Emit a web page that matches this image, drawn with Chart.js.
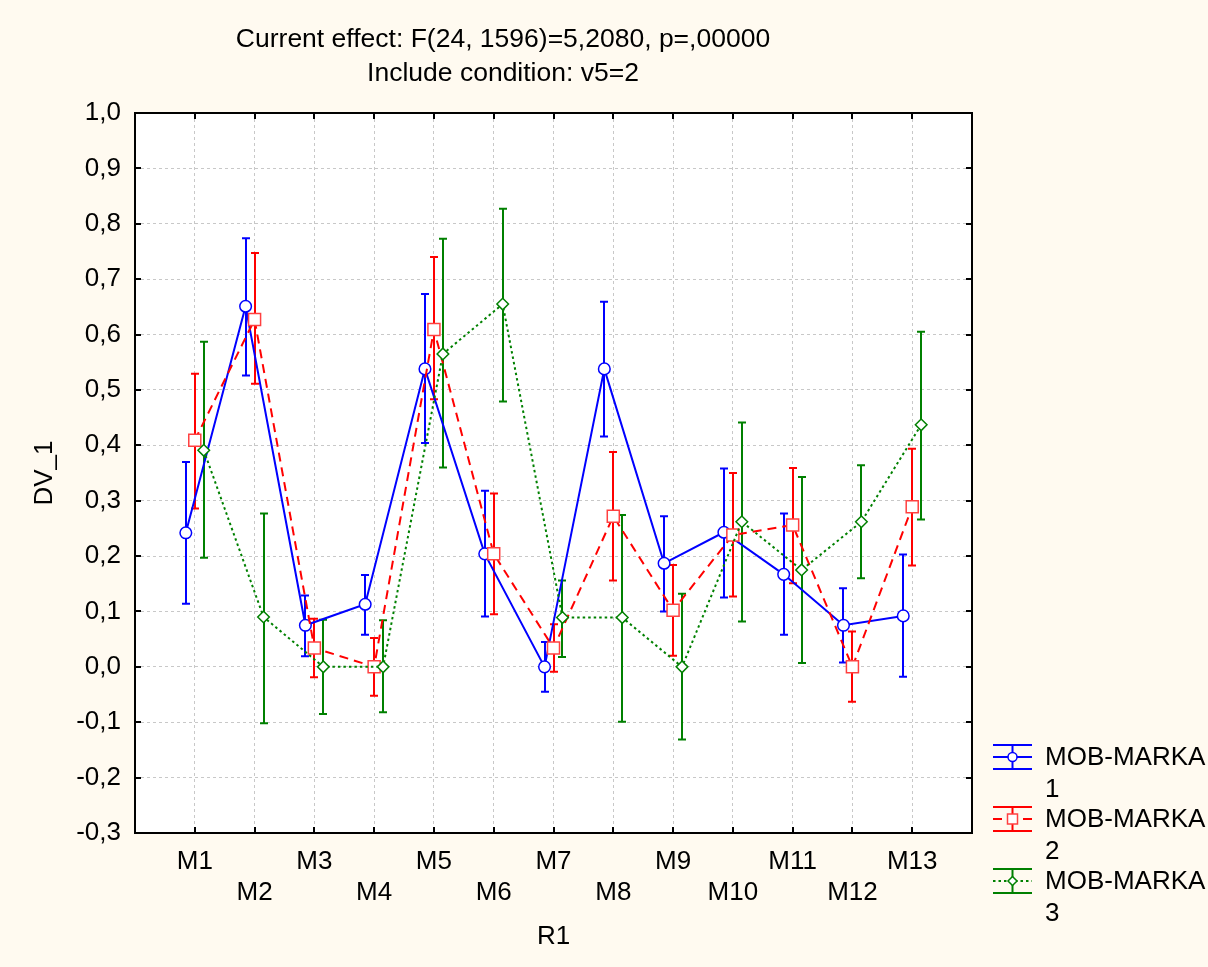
<!DOCTYPE html>
<html><head><meta charset="utf-8">
<script src="https://cdn.jsdelivr.net/npm/chart.js@4/dist/chart.umd.min.js"></script>
<style>html,body{margin:0;padding:0;background:#FFFAF0;}canvas{display:block;}</style>
</head><body>
<canvas id="c" width="1208" height="967"></canvas>
<script>
// ---- data ----
const categories = ['M1','M2','M3','M4','M5','M6','M7','M8','M9','M10','M11','M12','M13'];
const yTickValues = [-0.3,-0.2,-0.1,0.0,0.1,0.2,0.3,0.4,0.5,0.6,0.7,0.8,0.9,1.0];
const titleLines = ['Current effect: F(24, 1596)=5,2080, p=,00000', 'Include condition: v5=2'];
const xAxisTitle = 'R1';
const yAxisTitle = 'DV_1';
const seriesNames = ['MOB-MARKA 1', 'MOB-MARKA 2', 'MOB-MARKA 3'];

const marka1Mean  = [0.242, 0.651, 0.075, 0.113, 0.538, 0.204, 0.000, 0.538, 0.187, 0.243, 0.167, 0.075, 0.092];
const marka1Upper = [0.370, 0.774, 0.129, 0.166, 0.673, 0.318, 0.045, 0.659, 0.272, 0.358, 0.277, 0.142, 0.203];
const marka1Lower = [0.114, 0.526, 0.019, 0.058, 0.404, 0.091, -0.045, 0.416, 0.100, 0.125, 0.058, 0.008, -0.018];

const marka2Mean  = [0.409, 0.627, 0.034, 0.000, 0.609, 0.204, 0.034, 0.272, 0.102, 0.238, 0.256, 0.000, 0.289];
const marka2Upper = [0.529, 0.747, 0.087, 0.052, 0.740, 0.313, 0.077, 0.388, 0.184, 0.350, 0.359, 0.064, 0.394];
const marka2Lower = [0.286, 0.511, -0.019, -0.052, 0.483, 0.095, -0.009, 0.156, 0.020, 0.127, 0.151, -0.063, 0.183];

const marka3Mean  = [0.391, 0.090, 0.000, 0.000, 0.565, 0.655, 0.089, 0.089, 0.000, 0.262, 0.175, 0.262, 0.437];
const marka3Upper = [0.587, 0.277, 0.085, 0.084, 0.773, 0.827, 0.156, 0.274, 0.132, 0.441, 0.343, 0.364, 0.605];
const marka3Lower = [0.197, -0.102, -0.085, -0.082, 0.360, 0.479, 0.018, -0.099, -0.131, 0.082, 0.007, 0.160, 0.266];

// ---- styling ----
const FONT = 'Arial, "Liberation Sans", sans-serif';
const FS = 26;
const seriesData = [
  {mean: marka1Mean, upper: marka1Upper, lower: marka1Lower},
  {mean: marka2Mean, upper: marka2Upper, lower: marka2Lower},
  {mean: marka3Mean, upper: marka3Upper, lower: marka3Lower}
];
const seriesStyles = [
  {color:'#0000FF', marker:'#0000FF', dash:[], style:'circle', radius:5.8, offset:-0.15, order:3},
  {color:'#FF0000', marker:'#FF4040', dash:[9,6], style:'rect', radius:8.5, offset:0, order:2},
  {color:'#008000', marker:'#008000', dash:[2.5,3], style:'rectRot', radius:5.8, offset:0.15, order:1}
];

function fmt(v){ if (Math.abs(v) < 1e-9) v = 0; return v.toFixed(1).replace('.', ','); }

function drawMarker(ctx, style, x, y, r, color){
  ctx.save();
  ctx.setLineDash([]);
  ctx.fillStyle = '#FFFFFF'; ctx.strokeStyle = color; ctx.lineWidth = 1.5;
  ctx.beginPath();
  if (style === 'circle') ctx.arc(x, y, r, 0, Math.PI*2);
  else if (style === 'rect') ctx.rect(x - r, y - r, 2*r, 2*r);
  else { ctx.moveTo(x, y - r); ctx.lineTo(x + r, y); ctx.lineTo(x, y + r); ctx.lineTo(x - r, y); ctx.closePath(); }
  ctx.fill(); ctx.stroke();
  ctx.restore();
}

const framePlugin = {
  id: 'framePlugin',
  beforeDraw(chart){
    const {ctx, chartArea:a, width, height} = chart;
    ctx.save();
    ctx.fillStyle = '#FFFAF0'; ctx.fillRect(0, 0, width, height);
    ctx.fillStyle = '#FFFFFF'; ctx.fillRect(a.left, a.top, a.right - a.left, a.bottom - a.top);
    ctx.restore();
  },
  beforeDatasetsDraw(chart){
    const {ctx, scales:{x, y}} = chart;
    ctx.save();
    ctx.lineWidth = 2; ctx.setLineDash([]);
    seriesData.forEach((s, k) => {
      const st = seriesStyles[k];
      ctx.strokeStyle = st.color;
      s.mean.forEach((m, i) => {
        const px = Math.round(x.getPixelForValue(i + st.offset));
        const yt = y.getPixelForValue(s.upper[i]);
        const yb = y.getPixelForValue(s.lower[i]);
        ctx.beginPath();
        ctx.moveTo(px, yt); ctx.lineTo(px, yb);
        ctx.moveTo(px - 4, yt); ctx.lineTo(px + 4, yt);
        ctx.moveTo(px - 4, yb); ctx.lineTo(px + 4, yb);
        ctx.stroke();
      });
    });
    ctx.restore();
  },
  afterDraw(chart){
    const {ctx, chartArea:a, scales:{x, y}} = chart;
    ctx.save();
    // frame
    ctx.strokeStyle = '#000'; ctx.lineWidth = 2; ctx.setLineDash([]);
    ctx.strokeRect(a.left, a.top, a.right - a.left, a.bottom - a.top);
    // inward ticks
    ctx.beginPath();
    categories.forEach((c, i) => {
      const px = Math.round(x.getPixelForValue(i));
      ctx.moveTo(px, a.top); ctx.lineTo(px, a.top + 6);
      ctx.moveTo(px, a.bottom); ctx.lineTo(px, a.bottom - 6);
    });
    yTickValues.forEach(v => {
      const py = Math.round(y.getPixelForValue(v));
      ctx.moveTo(a.left, py); ctx.lineTo(a.left + 6, py);
      ctx.moveTo(a.right, py); ctx.lineTo(a.right - 6, py);
    });
    ctx.stroke();
    // titles
    ctx.fillStyle = '#000';
    ctx.textAlign = 'center'; ctx.textBaseline = 'middle';
    ctx.font = '26.5px ' + FONT;
    ctx.fillText(titleLines[0], 503, 40);
    ctx.fillText(titleLines[1], 503, 74);
    ctx.font = FS + 'px ' + FONT;
    ctx.fillText(xAxisTitle, (a.left + a.right) / 2, 937);
    ctx.save();
    ctx.translate(45, (a.top + a.bottom) / 2);
    ctx.rotate(-Math.PI / 2);
    ctx.fillText(yAxisTitle, 0, 0);
    ctx.restore();
    // legend
    seriesNames.forEach((name, k) => {
      const st = seriesStyles[k];
      const y0 = 745 + k * 62;
      const x0 = 993, x1 = 1032, xc = 1012.5;
      ctx.strokeStyle = st.color; ctx.lineWidth = 2; ctx.setLineDash([]);
      ctx.beginPath();
      ctx.moveTo(x0, y0); ctx.lineTo(x1, y0);
      ctx.moveTo(x0, y0 + 24); ctx.lineTo(x1, y0 + 24);
      ctx.moveTo(xc, y0); ctx.lineTo(xc, y0 + 24);
      ctx.stroke();
      ctx.setLineDash(st.dash);
      ctx.beginPath(); ctx.moveTo(x0, y0 + 12); ctx.lineTo(x1, y0 + 12); ctx.stroke();
      drawMarker(ctx, st.style, xc, y0 + 12, st.style === 'rect' ? 5 : 4.5, st.marker);
      const parts = name.split(' ');
      ctx.fillStyle = '#000'; ctx.textAlign = 'left'; ctx.textBaseline = 'middle';
      ctx.fillText(parts[0], 1045, 758 + k * 62);
      ctx.fillText(parts[1], 1045, 790 + k * 62);
    });
    ctx.restore();
  }
};

const datasets = seriesData.map((s, k) => {
  const st = seriesStyles[k];
  return {
    label: seriesNames[k],
    data: s.mean.map((m, i) => ({x: i + st.offset, y: m})),
    showLine: true,
    borderColor: st.color,
    borderWidth: 2,
    borderDash: st.dash,
    tension: 0,
    pointStyle: st.style,
    pointRadius: st.radius,
    pointBackgroundColor: '#FFFFFF',
    pointBorderColor: st.marker,
    pointBorderWidth: 1.5,
    order: st.order
  };
});

new Chart(document.getElementById('c'), {
  type: 'scatter',
  data: { datasets },
  plugins: [framePlugin],
  options: {
    responsive: false,
    animation: false,
    events: [],
    layout: { autoPadding: false, padding: { top: 113, right: 236, bottom: 0, left: 0 } },
    plugins: { legend: { display: false }, tooltip: { enabled: false }, title: { display: false } },
    scales: {
      x: {
        type: 'linear', min: -1, max: 13,
        afterFit(scale){ scale.height = 134; },
        afterBuildTicks(scale){ scale.ticks = categories.map((c, i) => ({value: i})); },
        grid: { color: '#C8C8C8', lineWidth: 1, drawTicks: false },
        border: { display: false, dash: [3, 3] },
        ticks: {
          autoSkip: false, maxRotation: 0, padding: 13, color: '#000',
          font: { family: FONT, size: FS, lineHeight: 1.2 },
          callback: (v) => { const n = categories[Math.round(v)]; return Math.round(v) % 2 === 0 ? [n, ''] : ['', n]; }
        }
      },
      y: {
        type: 'linear', min: -0.3, max: 1.0,
        afterFit(scale){ scale.width = 135; },
        afterBuildTicks(scale){ scale.ticks = yTickValues.map(v => ({value: v})); },
        grid: { color: '#C8C8C8', lineWidth: 1, drawTicks: false },
        border: { display: false, dash: [3, 3] },
        ticks: {
          padding: 14, color: '#000',
          font: { family: FONT, size: FS },
          callback: (v) => fmt(v)
        }
      }
    }
  }
});
</script>
</body></html>
